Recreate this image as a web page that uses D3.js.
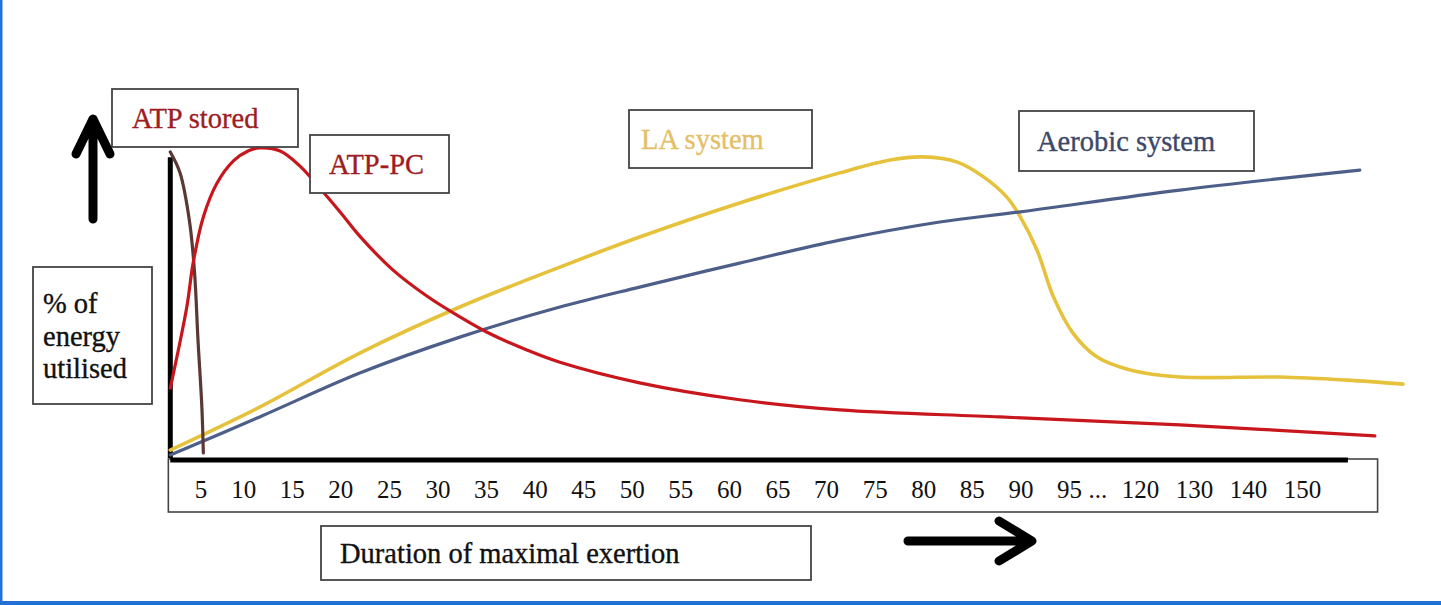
<!DOCTYPE html>
<html>
<head>
<meta charset="utf-8">
<script src="https://cdn.jsdelivr.net/npm/d3@7"></script>
<style>
  html, body { margin: 0; padding: 0; background: #fff; }
  svg { display: block; }
</style>
</head>
<body>
<svg id="chart"></svg>
<script>
// tick labels along the duration axis (seconds), "..." marks the break
const tickLabels = ["5","10","15","20","25","30","35","40","45","50","55","60","65","70","75","80","85","90","95","...","120","130","140","150"];
const tickValues = [5,10,15,20,25,30,35,40,45,50,55,60,65,70,75,80,85,90,95,105,120,130,140,150];

// [seconds, % of energy utilised]
const atpStored = [[2.5,98.7],[3.5,91.9],[4.5,75.6],[5.0,59.3],[5.35,37.5],[5.75,15.6],[5.9,0.7]];
const atpPc = [[2.5,21.8],[4.2,48.2],[4.85,62.5],[5.9,77.5],[7.3,88.5],[9,95.8],[10.5,99],[11.7,100],[13.8,99],
  [15.85,94.1],[17.9,86.9],[20,79.1],[22,71.3],[25.4,60.3],[28.9,51.8],[32.3,45],[35.1,40],[39.2,34.2],[42.6,30.2],
  [50.8,23.5],[61.1,18],[71.4,14.7],[87.9,12.4],[127.4,9.8],[163.5,6.2]];
const laSystem = [[2.5,1.6],[11.7,15.6],[22,33.2],[32.3,48.2],[42.6,61.2],[50.8,71],[61.1,82.1],[71.4,91.9],[76.6,96.1],
  [80,97.1],[83.5,95.4],[86.2,90.6],[88.6,84],[90,77.5],[91.7,66.8],[93.4,51.5],[96.4,39.7],[104.9,31.9],[116.5,27.7],
  [127.4,25.4],[145.9,25.4],[158.3,24.4],[168.7,23.1]];
const aerobic = [[2.5,0],[11.7,12.4],[22,26.7],[32.3,38.4],[42.6,48.2],[50.8,54.7],[61.1,62.5],[71.4,70],[81.7,75.9],
  [90,79.2],[127.4,86.3],[160.7,92.8]];

const series = [
  {name: "LA system", data: laSystem, color: "#e6c23c", width: 3.6},
  {name: "Aerobic system", data: aerobic, color: "#4d5f88", width: 3.2},
  {name: "ATP stored", data: atpStored, color: "#5a3834", width: 3.2},
  {name: "ATP-PC", data: atpPc, color: "#c8161d", width: 3.2}
];

// label boxes
const labelBoxes = [
  {lines: ["ATP stored"], color: "#9e1d24", x: 112, y: 89, w: 186, h: 58, pad: 20},
  {lines: ["ATP-PC"], color: "#9e1d24", x: 310, y: 135, w: 139, h: 58, pad: 19},
  {lines: ["LA system"], color: "#e3c068", x: 629, y: 110, w: 183, h: 58, pad: 12},
  {lines: ["Aerobic system"], color: "#3d4868", x: 1019, y: 111, w: 235, h: 60, pad: 18},
  {lines: ["% of", "energy", "utilised"], color: "#111", x: 33, y: 267, w: 119, h: 137, pad: 10},
  {lines: ["Duration of maximal exertion"], color: "#111", x: 321, y: 526, w: 490, h: 54, pad: 19}
];

const width = 1441, height = 605;
const font = "'Liberation Serif', 'Times New Roman', serif";

const svg = d3.select("#chart")
  .attr("width", width)
  .attr("height", height)
  .attr("viewBox", [0, 0, width, height]);

svg.append("rect").attr("width", width).attr("height", height).attr("fill", "#fff");

// broken axis: 0-95 evenly, then compressed
const x = d3.scaleLinear().domain([0, 95, 120, 150]).range([146, 1069, 1140, 1302]);
const y = d3.scaleLinear().domain([0, 100]).range([455, 148]);

// tick label strip
svg.append("rect")
  .attr("x", x(2.3)).attr("y", 459)
  .attr("width", x(164) - x(2.3)).attr("height", 53)
  .attr("fill", "none").attr("stroke", "#444").attr("stroke-width", 1.6);

const xAxis = d3.axisBottom(x)
  .tickValues(tickValues)
  .tickFormat((d, i) => tickLabels[i])
  .tickSize(0)
  .tickPadding(20);

svg.append("g")
  .attr("transform", "translate(0,460)")
  .call(xAxis)
  .call(g => g.select(".domain").remove())
  .attr("font-family", font)
  .attr("font-size", 25)
  .call(g => g.selectAll("text").attr("fill", "#111").attr("dx", (d, i) => i === 0 ? 6 : 0));

// thick axis lines
svg.append("line")
  .attr("x1", x(2.5)).attr("x2", x(158.5))
  .attr("y1", 460).attr("y2", 460)
  .attr("stroke", "#000").attr("stroke-width", 5);
svg.append("line")
  .attr("x1", x(2.5)).attr("x2", x(2.5))
  .attr("y1", y(97)).attr("y2", y(-1))
  .attr("stroke", "#000").attr("stroke-width", 5);

// energy system curves
const line = d3.line()
  .x(d => x(d[0]))
  .y(d => y(d[1]))
  .curve(d3.curveCatmullRom.alpha(0.5));

svg.append("g")
  .attr("fill", "none")
  .attr("stroke-linecap", "round")
  .selectAll("path")
  .data(series)
  .join("path")
  .attr("d", d => line(d.data))
  .attr("stroke", d => d.color)
  .attr("stroke-width", d => d.width);

// label boxes
const box = svg.append("g")
  .selectAll("g")
  .data(labelBoxes)
  .join("g");

box.append("rect")
  .attr("x", d => d.x).attr("y", d => d.y)
  .attr("width", d => d.w).attr("height", d => d.h)
  .attr("fill", "#fff").attr("stroke", "#444").attr("stroke-width", 1.8);

box.append("text")
  .attr("font-family", font)
  .attr("font-size", 28.5)
  .attr("fill", d => d.color)
  .attr("stroke", d => d.color)
  .attr("stroke-width", 0.35)
  .selectAll("tspan")
  .data(d => d.lines.map((t, i) => ({t, i, d})))
  .join("tspan")
  .attr("x", o => o.d.x + o.d.pad)
  .attr("y", o => o.d.y + (o.d.lines.length > 1 ? 46 + o.i * 32.5 : o.d.h / 2 + 10))
  .text(o => o.t);

// direction arrows
const arrow = svg.append("g")
  .attr("fill", "none").attr("stroke", "#000").attr("stroke-width", 9)
  .attr("stroke-linecap", "round").attr("stroke-linejoin", "round");
arrow.append("path").attr("d", "M93,219V120M76,154L93,119L110,154");
arrow.append("path").attr("d", "M908,541H1030M999,521L1032,541L999,561");

// page frame (left and bottom edges)
svg.append("rect").attr("x", 0).attr("y", 0).attr("width", 2.5).attr("height", height).attr("fill", "#2471d6");
svg.append("rect").attr("x", 0).attr("y", 601).attr("width", width).attr("height", 4).attr("fill", "#2471d6");
</script>
</body>
</html>
